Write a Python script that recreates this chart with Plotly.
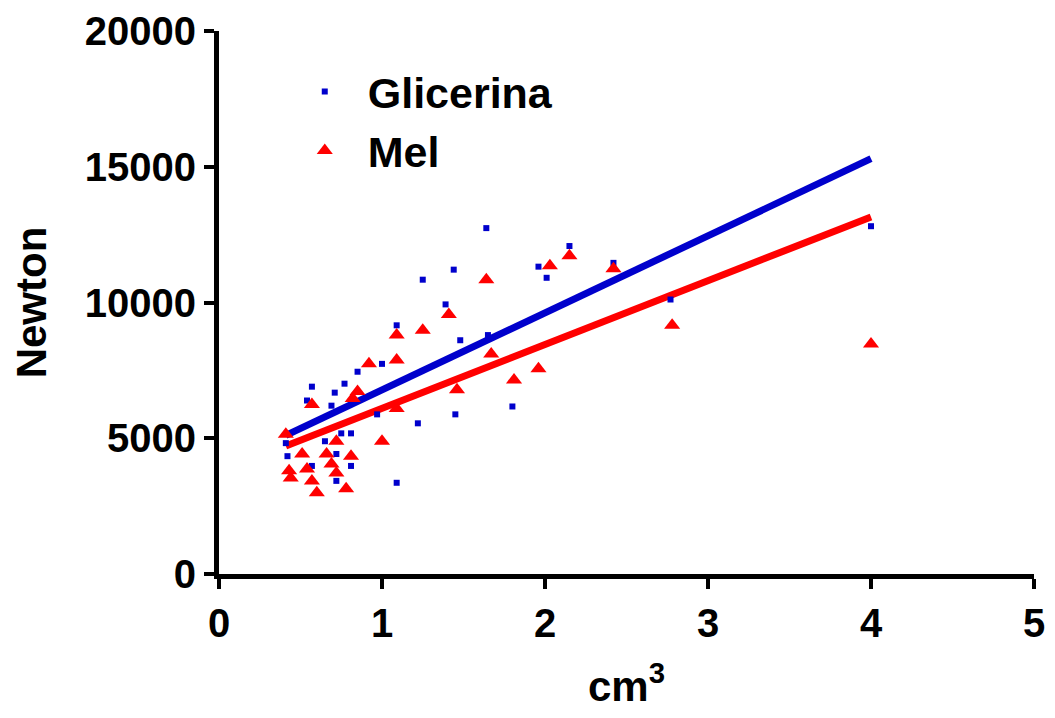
import numpy as np
import plotly.graph_objects as go

# Glicerina (blue squares)
glic_x = [1.64, 2.15, 1.96, 2.01, 1.44, 1.25, 1.39, 1.48, 1.65, 1.45, 1.80, 1.22,
          2.42, 2.77, 4.00, 1.09, 1.00, 0.85, 0.57, 0.77, 0.71, 0.54, 0.69, 0.97,
          0.75, 0.81, 0.65, 0.72, 0.81, 1.09, 0.72, 0.42, 0.41, 0.57]
glic_y = [12740, 12080, 11320, 10910, 11210, 10840, 9930, 8610, 8800, 5880, 6170, 5550,
          11460, 10110, 12810, 9160, 7740, 7450, 6900, 7010, 6680, 6390, 6200, 5880,
          5180, 5180, 4890, 4420, 3980, 3360, 3430, 4340, 4820, 3980]

# Mel (red triangles)
mel_x = [1.64, 2.03, 2.15, 2.42, 2.78, 4.00, 1.25, 1.41, 1.09, 1.46, 1.81, 1.96,
         1.67, 0.92, 1.09, 0.57, 0.82, 0.85, 1.09, 1.00, 0.41, 0.72, 0.51, 0.66,
         0.81, 0.43, 0.54, 0.69, 0.57, 0.72, 0.60, 0.78, 0.44]
mel_y = [10840, 11350, 11720, 11240, 9160, 8470, 8980, 9560, 8800, 6790, 7150, 7560,
         8100, 7740, 7880, 6240, 6460, 6720, 6100, 4890, 5150, 4890, 4420, 4420,
         4340, 3800, 3870, 4050, 3430, 3720, 2990, 3140, 3540]

x_ticks = [0, 1, 2, 3, 4, 5]
y_ticks = [0, 5000, 10000, 15000, 20000]
y_tick_labels = ["0", "5000", "10000", "15000", "20000"]

BLUE = "#0000CC"
RED = "#FF0000"
FONT = "Liberation Sans"


# least squares line over the data range
def fit_line(xs, ys):
    xs = np.array(xs)
    slope, intercept = np.polyfit(xs, np.array(ys), 1)
    lx = np.array([xs.min(), xs.max()])
    return lx, slope * lx + intercept


fig = go.Figure()

gx, gy = fit_line(glic_x, glic_y)
mx, my = fit_line(mel_x, mel_y)

fig.add_trace(go.Scatter(x=gx, y=gy, mode="lines", line=dict(color=BLUE, width=7),
                         showlegend=False, hoverinfo="skip"))
fig.add_trace(go.Scatter(x=mx, y=my, mode="lines", line=dict(color=RED, width=7),
                         showlegend=False, hoverinfo="skip"))

fig.add_trace(go.Scatter(x=glic_x, y=glic_y, mode="markers", name="Glicerina",
                         legendgroup="g", marker=dict(symbol="square", size=6, color=BLUE)))
fig.add_trace(go.Scatter(x=mel_x, y=mel_y, mode="markers", name="Mel",
                         legendgroup="m", marker=dict(symbol="triangle-up", size=14, color=RED)))

# the page body has an 8px margin; size the figure so it fits the window
# without scrollbars and place the plot area where the reference has it
fig.update_layout(
    width=1039, height=702,
    margin=dict(l=211, r=13, t=23, b=136),
    plot_bgcolor="white", paper_bgcolor="white",
    font=dict(family=FONT, color="black"),
    legend=dict(x=0.077, y=0.952, xanchor="left", yanchor="top",
                font=dict(family=FONT, size=43, weight="bold"),
                bgcolor="rgba(0,0,0,0)", itemsizing="trace",
                itemwidth=76, tracegroupgap=0),
)
fig.update_xaxes(
    range=[0, 5], tickvals=x_ticks, showgrid=False, zeroline=False, automargin=False,
    showline=True, linewidth=5, linecolor="black",
    ticks="outside", ticklen=10, tickwidth=4, tickcolor="black",
    tickfont=dict(family=FONT, size=40, weight="bold"), ticklabeloverflow="allow",
    title=dict(text="cm<sup>3</sup>", font=dict(family=FONT, size=42, weight="bold"),
               standoff=36),
)
fig.update_yaxes(
    range=[0, 20000], tickvals=y_ticks, ticktext=y_tick_labels,
    showgrid=False, zeroline=False, automargin=False,
    showline=True, linewidth=5, linecolor="black",
    ticks="outside", ticklen=10, tickwidth=4, tickcolor="black",
    tickfont=dict(family=FONT, size=40, weight="bold"), ticklabeloverflow="allow",
    title=dict(text="Newton", font=dict(family=FONT, size=42, weight="bold"),
               standoff=30),
)

fig.write_html("out.html")
